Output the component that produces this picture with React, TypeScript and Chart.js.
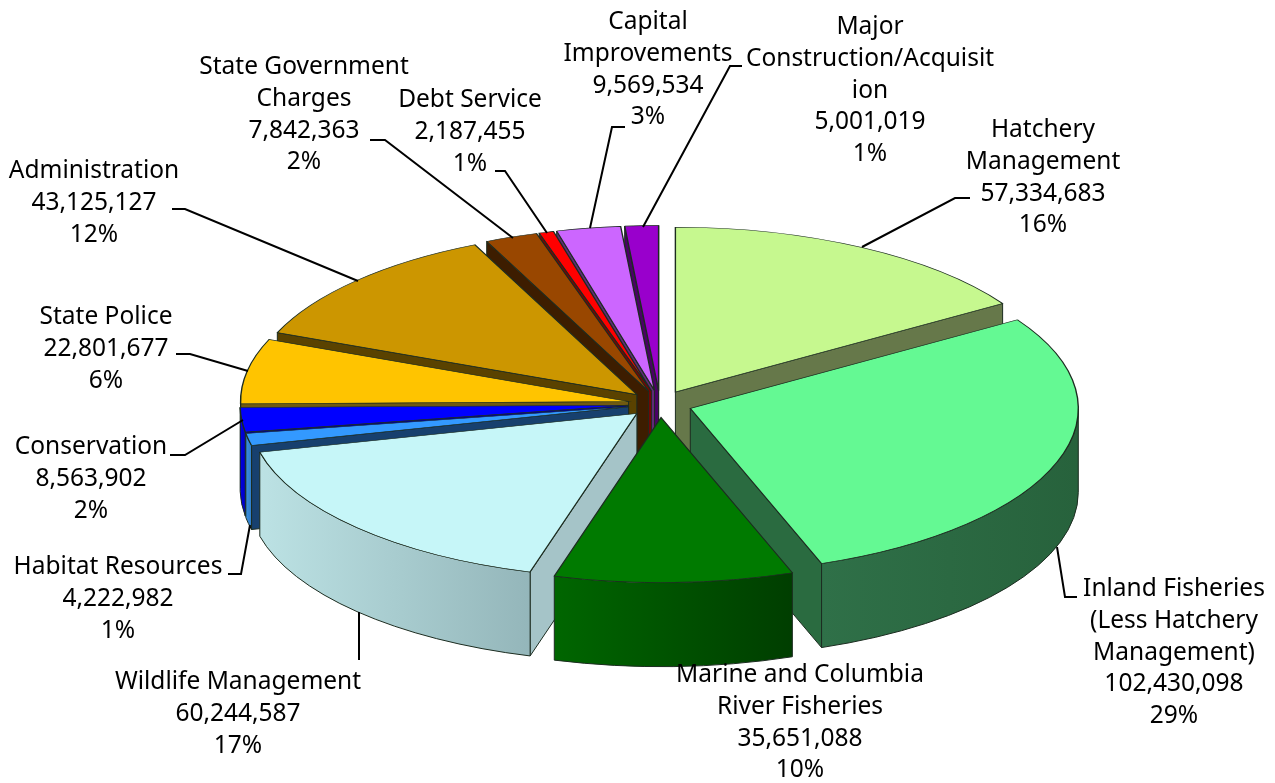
import React, { useEffect, useRef } from "react";
import { Chart, registerables } from "chart.js";

Chart.register(...registerables);

const categories = [
  "Hatchery Management",
  "Inland Fisheries (Less Hatchery Management)",
  "Marine and Columbia River Fisheries",
  "Wildlife Management",
  "Habitat Resources",
  "Conservation",
  "State Police",
  "Administration",
  "State Government Charges",
  "Debt Service",
  "Capital Improvements",
  "Major Construction/Acquisition",
];
const values = [57334683, 102430098, 35651088, 60244587, 4222982, 8563902, 22801677, 43125127, 7842363, 2187455, 9569534, 5001019];
const percents = ["16%", "29%", "10%", "17%", "1%", "2%", "6%", "12%", "2%", "1%", "3%", "1%"];
const nameLines = [
  ["Hatchery", "Management"],
  ["Inland Fisheries", "(Less Hatchery", "Management)"],
  ["Marine and Columbia", "River Fisheries"],
  ["Wildlife Management"],
  ["Habitat Resources"],
  ["Conservation"],
  ["State Police"],
  ["Administration"],
  ["State Government", "Charges"],
  ["Debt Service"],
  ["Capital", "Improvements"],
  ["Major", "Construction/Acquisit", "ion"],
];

const topColors = ["#C6F88F", "#64F993", "#007A00", "#C6F6F8", "#3399FF", "#0000FF", "#FFC400", "#CC9600", "#994700", "#FF0000", "#CC66FF", "#9900CC"];
const sideColors = ["#66784A", "#2A6B40", "#005000", "#A5C4C8", "#17406E", "#0000A0", "#705A10", "#5A4200", "#3D1D00", "#800000", "#5E2B77", "#4A0066"];
const wallLeft = ["#66784A", "#2F7048", "#006600", "#BCE2E4", "#3A8FE0", "#0000E0", "#D8A600", "#A87C00", "#7A3800", "#C00000", "#A050D0", "#7A00A0"];
const wallRight = ["#66784A", "#27623C", "#003E00", "#94B6BA", "#2F7CC8", "#0000C8", "#B89000", "#8A6600", "#602C00", "#A00000", "#8040B0", "#600088"];

// Label layout: centre x, centre y of first line, then the leader polyline.
const labelX = [1043, 1174, 800, 238, 118, 91, 106, 94, 304, 470, 648, 870];
const labelY = [130, 589, 675, 682, 567, 447, 317, 171, 67, 100, 22, 27];
const leaders = [
  [[862, 247], [955, 198], [970, 198]],
  [[1057, 547], [1065, 597], [1077, 597]],
  [],
  [[359, 612], [359, 660]],
  [[250, 525], [241, 574], [228, 574]],
  [[243, 420], [185, 455], [170, 455]],
  [[248, 371], [190, 354], [176, 354]],
  [[358, 281], [185, 209], [172, 209]],
  [[513, 238], [385, 140], [370, 140]],
  [[547, 233], [505, 171], [495, 171]],
  [[590, 228], [612, 127], [625, 127]],
  [[643, 227], [730, 66], [742, 66]],
];

const RADIUS = 388;
const EXPLODE = 32;
const SQUASH = 0.425;
const DEPTH = 84;
const CENTER_Y = 404;
const FONT = '24.5px "Noto Sans"';
const LINE = 31.8;

const pie3d = {
  id: "pie3d",
  beforeDatasetDraw(chart: any) {
    const ctx = chart.ctx;
    const arcs: any[] = chart.getDatasetMeta(0).data;
    const geom = arcs.map((arc, i) => {
      const mid = (arc.startAngle + arc.endAngle) / 2;
      return {
        arc,
        i,
        mid,
        x0: arc.x + EXPLODE * Math.cos(mid),
        y0: CENTER_Y + SQUASH * EXPLODE * Math.sin(mid),
      };
    });
    const order = [...geom].sort((a, b) => Math.sin(a.mid) - Math.sin(b.mid));

    const side = (g: any, a: number) => {
      ctx.beginPath();
      const rx = g.x0 + RADIUS * Math.cos(a);
      const ry = g.y0 + SQUASH * RADIUS * Math.sin(a);
      ctx.moveTo(g.x0, g.y0);
      ctx.lineTo(rx, ry);
      ctx.lineTo(rx, ry + DEPTH);
      ctx.lineTo(g.x0, g.y0 + DEPTH);
      ctx.closePath();
      ctx.fillStyle = sideColors[g.i];
      ctx.fill();
      ctx.lineWidth = 1;
      ctx.strokeStyle = "#1c2c20";
      ctx.stroke();
    };

    for (const g of order) {
      const { startAngle, endAngle } = g.arc;
      if (Math.cos(startAngle) < 0) side(g, startAngle);
      if (Math.cos(endAngle) > 0) side(g, endAngle);
      const a1 = Math.max(startAngle, 0);
      const a2 = Math.min(endAngle, Math.PI);
      if (a2 > a1) {
        ctx.beginPath();
        ctx.ellipse(g.x0, g.y0, RADIUS, SQUASH * RADIUS, 0, a1, a2, false);
        ctx.ellipse(g.x0, g.y0 + DEPTH, RADIUS, SQUASH * RADIUS, 0, a2, a1, true);
        ctx.closePath();
        const gx0 = g.x0 + RADIUS * Math.cos(a2);
        const gx1 = g.x0 + RADIUS * Math.cos(a1);
        const grad = ctx.createLinearGradient(gx0, 0, gx1, 0);
        grad.addColorStop(0, wallLeft[g.i]);
        grad.addColorStop(1, wallRight[g.i]);
        ctx.fillStyle = grad;
        ctx.fill();
        ctx.lineWidth = 1;
        ctx.strokeStyle = "#1c2c20";
        ctx.stroke();
      }
    }

    for (const g of order) {
      ctx.save();
      ctx.translate(g.x0 - g.arc.x, g.y0);
      ctx.scale(1, SQUASH);
      ctx.translate(0, -g.arc.y);
      g.arc.draw(ctx);
      ctx.restore();
    }
    return false;
  },
  afterDraw(chart: any) {
    const ctx = chart.ctx;
    ctx.save();
    ctx.strokeStyle = "#000";
    ctx.lineWidth = 2;
    ctx.lineJoin = "miter";
    for (const pts of leaders) {
      if (!pts.length) continue;
      ctx.beginPath();
      pts.forEach((p, i) => (i ? ctx.lineTo(p[0], p[1]) : ctx.moveTo(p[0], p[1])));
      ctx.stroke();
    }
    ctx.fillStyle = "#000";
    ctx.font = FONT;
    ctx.textAlign = "center";
    ctx.textBaseline = "middle";
    categories.forEach((_, i) => {
      const lines = [...nameLines[i], values[i].toLocaleString("en-US"), percents[i]];
      lines.forEach((t, j) => ctx.fillText(t, labelX[i], labelY[i] + j * LINE));
    });
    ctx.restore();
  },
};

export default function App() {
  const ref = useRef<HTMLCanvasElement>(null);
  useEffect(() => {
    document.body.style.margin = "0";
    const chart = new Chart(ref.current as HTMLCanvasElement, {
      type: "pie",
      data: {
        labels: categories,
        datasets: [
          {
            data: values,
            backgroundColor: topColors,
            borderColor: "#1c2c20",
            borderWidth: 1.4,
            borderJoinStyle: "miter",
          } as any,
        ],
      },
      options: {
        responsive: false,
        animation: false,
        radius: RADIUS,
        rotation: 0,
        layout: { padding: { left: 45 } },
        plugins: { legend: { display: false }, tooltip: { enabled: false } },
      } as any,
      plugins: [pie3d as any],
    });
    return () => chart.destroy();
  }, []);
  return (
    <canvas
      ref={ref}
      width={1275}
      height={783}
      style={{ display: "block", position: "fixed", left: 0, top: 0, background: "#fff" }}
    />
  );
}
